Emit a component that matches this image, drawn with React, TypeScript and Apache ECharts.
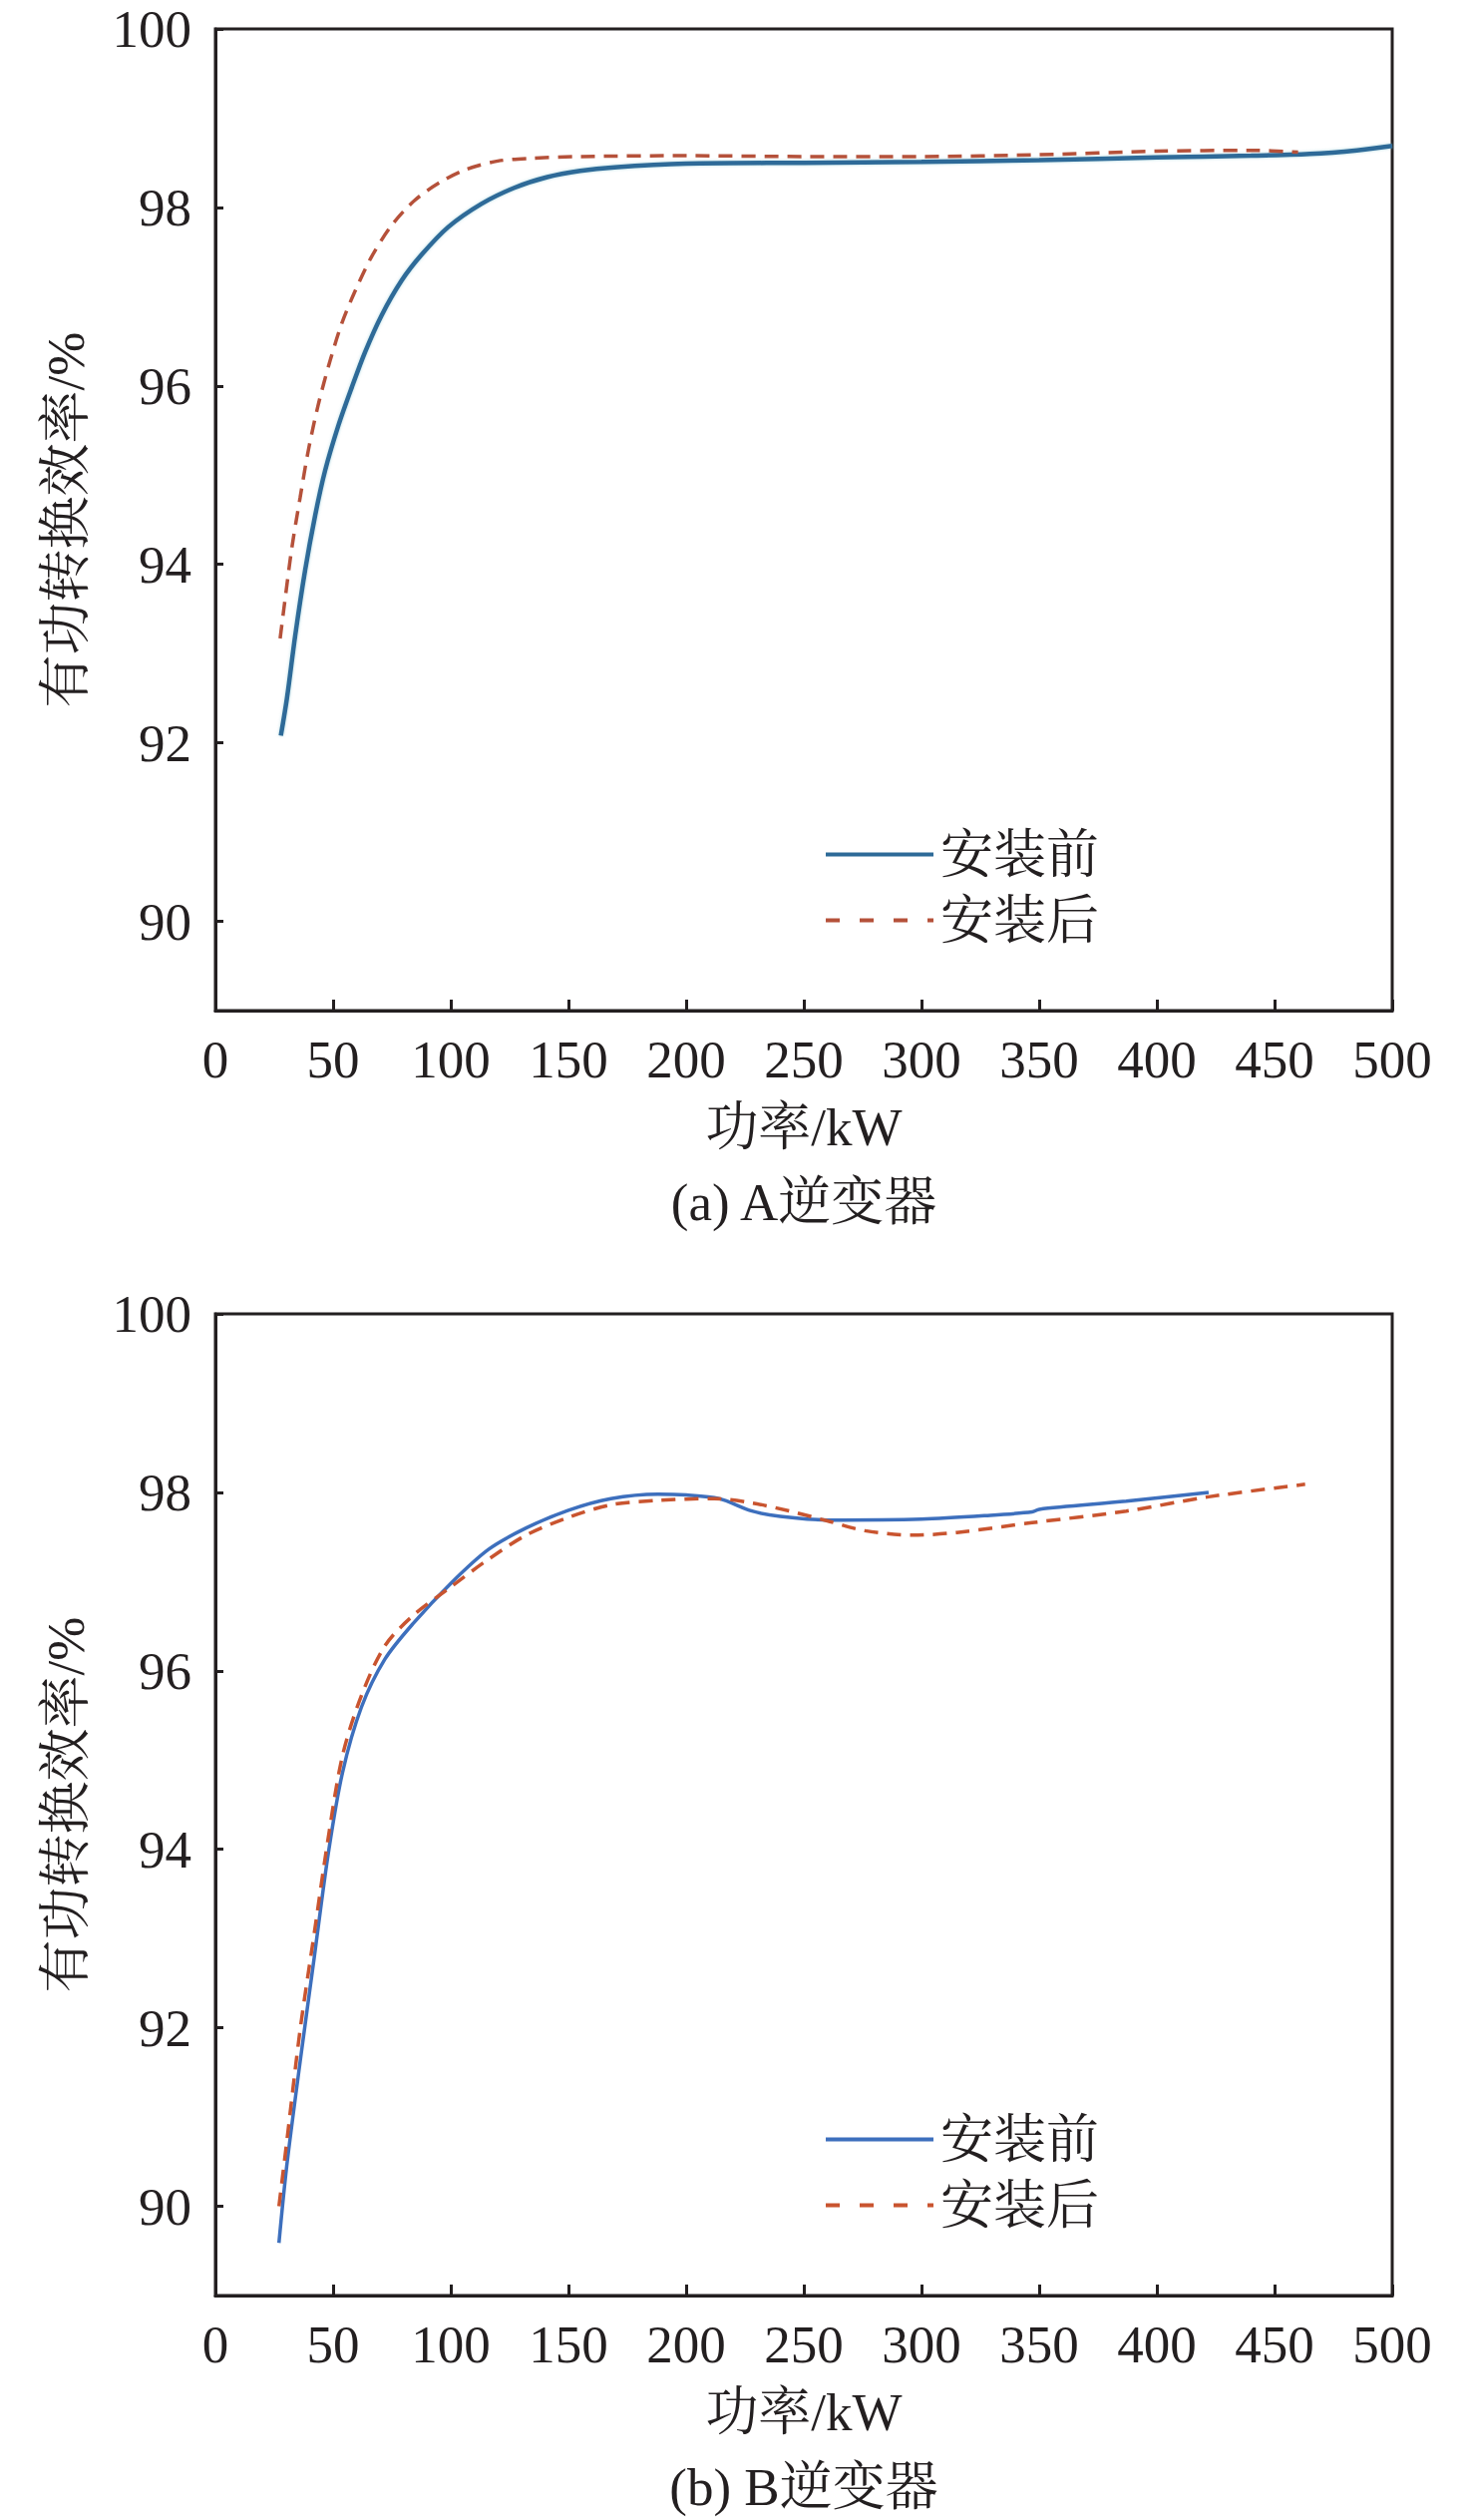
import React, { useEffect, useRef } from "react";
import * as echarts from "echarts";

// ---- Data ----
const seriesNames = ["安装前", "安装后"];
const xTicks = [0, 50, 100, 150, 200, 250, 300, 350, 400, 450, 500];
const yTicks = [90, 92, 94, 96, 98, 100];

// (a) A inverter, before installation
const aBeforeX = [27.8, 30.4, 33.9, 38.1, 42.4, 46.6, 52.3, 57.9, 63.6, 70.6, 79.1, 87.6, 98.9, 113, 127, 141, 155, 169.5, 200, 250, 300, 350, 400, 440, 465, 485, 500];
const aBeforeY = [92.08, 92.5, 93.2, 93.93, 94.55, 95.05, 95.56, 95.98, 96.38, 96.79, 97.18, 97.47, 97.78, 98.04, 98.22, 98.34, 98.41, 98.45, 98.49, 98.5, 98.51, 98.53, 98.56, 98.58, 98.6, 98.64, 98.69];
// (a) A inverter, after installation
const aAfterX = [27.5, 29.7, 32.5, 36, 39.5, 43.8, 48.7, 53.7, 59.3, 66.4, 74.9, 84.7, 96, 107, 120, 134, 155, 200, 250, 300, 350, 400, 440, 460];
const aAfterY = [93.17, 93.63, 94.19, 94.75, 95.28, 95.8, 96.28, 96.7, 97.06, 97.45, 97.8, 98.08, 98.29, 98.43, 98.52, 98.55, 98.57, 98.58, 98.57, 98.57, 98.59, 98.63, 98.64, 98.62];

// (b) B inverter, before installation
const bBeforeX = [27, 30.3, 36, 42, 48, 54, 62, 72, 84, 100, 116, 132, 150, 168, 188, 200, 214, 228, 240, 260, 300, 328, 347, 350, 387, 422];
const bBeforeY = [89.59, 90.45, 91.62, 92.79, 93.96, 94.86, 95.59, 96.13, 96.53, 96.98, 97.36, 97.6, 97.8, 97.93, 97.98, 97.97, 97.93, 97.79, 97.73, 97.69, 97.7, 97.74, 97.78, 97.81, 97.9, 98.0];
// (b) B inverter, after installation
const bAfterX = [27, 30.3, 36, 42, 48, 54, 62, 72, 84, 100, 116, 132, 150, 168, 188, 212, 228, 244, 260, 276, 296, 315, 347, 387, 422, 463];
const bAfterY = [90.0, 90.72, 91.98, 93.06, 94.14, 95.05, 95.72, 96.28, 96.62, 96.94, 97.25, 97.52, 97.72, 97.86, 97.91, 97.93, 97.88, 97.79, 97.68, 97.57, 97.52, 97.55, 97.66, 97.79, 97.95, 98.09];

const captions = ["(a) A逆变器", "(b) B逆变器"];
const xName = "功率/kW";
const yName = "有功转换效率/%";

const pairs = (xs: number[], ys: number[]) => xs.map((x, i) => [x, ys[i]]);

const FONT = "'Liberation Serif', 'Noto Serif CJK SC', 'Noto Sans CJK SC', serif";
const INK = "#231f20";
const FS = 53;

const GRID_LEFT = 216;
const GRID_WIDTH = 1180;
const GRID_H = 984;
const TOPS = [29, 1317];

const colors = [
  { blue: "#2d6a98", red: "#b5513a" },
  { blue: "#3d6fbd", red: "#c9542f" },
];

export default function App() {
  const ref = useRef<HTMLDivElement>(null);
  useEffect(() => {
    document.body.style.margin = "0";
    if (!ref.current) return;
    const chart = echarts.init(ref.current, undefined, { renderer: "svg" });

    const grids = TOPS.map((t) => ({
      left: GRID_LEFT,
      top: t,
      width: GRID_WIDTH,
      height: GRID_H,
      show: true,
      borderColor: INK,
      borderWidth: 3,
      backgroundColor: "transparent",
    }));

    const xAxes = [0, 1].map((i) => ({
      type: "value",
      gridIndex: i,
      min: 0,
      max: 500,
      interval: 50,
      name: xName,
      nameLocation: "middle",
      nameGap: 90,
      nameTextStyle: { fontFamily: FONT, fontSize: FS, color: INK },
      axisLine: { show: true, lineStyle: { color: INK, width: 3 } },
      axisTick: { show: true, inside: true, length: 11, lineStyle: { color: INK, width: 3 } },
      axisLabel: { show: true, margin: 22, fontFamily: FONT, fontSize: FS, color: INK, customValues: xTicks },
      splitLine: { show: false },
    }));

    const yAxes = [0, 1].map((i) => ({
      type: "value",
      gridIndex: i,
      min: 89,
      max: 100,
      name: yName,
      nameLocation: "middle",
      nameGap: 124,
      nameRotate: 90,
      nameTextStyle: { fontFamily: FONT, fontSize: FS, color: INK },
      axisLine: { show: true, lineStyle: { color: INK, width: 3 } },
      axisTick: { show: true, inside: true, length: 8, lineStyle: { color: INK, width: 3 }, customValues: yTicks },
      axisLabel: { show: true, margin: 24, fontFamily: FONT, fontSize: FS, color: INK, customValues: yTicks },
      splitLine: { show: false },
    }));

    const mkLine = (name: string, data: number[][], idx: number, color: string, dashed: boolean) => ({
      name,
      type: "line",
      xAxisIndex: idx,
      yAxisIndex: idx,
      data,
      symbol: "none",
      showSymbol: false,
      smooth: 0.3,
      lineStyle: dashed
        ? { color, width: 3.5, type: [14, 9] }
        : { color, width: idx === 0 ? 4.5 : 3.5, shadowColor: idx === 0 ? "rgba(120,190,205,0.6)" : "transparent", shadowBlur: idx === 0 ? 3 : 0 },
      itemStyle: { color },
      z: dashed ? 3 : 2,
    });

    const series = [
      mkLine(seriesNames[0], pairs(aBeforeX, aBeforeY), 0, colors[0].blue, false),
      mkLine(seriesNames[1], pairs(aAfterX, aAfterY), 0, colors[0].red, true),
      mkLine(seriesNames[0], pairs(bBeforeX, bBeforeY), 1, colors[1].blue, false),
      mkLine(seriesNames[1], pairs(bAfterX, bAfterY), 1, colors[1].red, true),
    ];

    const legends = [0, 1].map((i) => ({
      orient: "vertical",
      left: 821,
      top: TOPS[i] + 822 - 26,
      itemWidth: 108,
      itemHeight: 14,
      itemGap: 13,
      selectedMode: false,
      textStyle: { fontFamily: FONT, fontSize: FS, color: INK, padding: [0, 0, 0, 2] },
      data: [
        {
          name: seriesNames[0],
          lineStyle: { color: colors[i].blue, width: 4, type: "solid", shadowBlur: 0, shadowColor: "transparent" },
          itemStyle: { color: "transparent", opacity: 0, borderWidth: 0 },
        },
        {
          name: seriesNames[1],
          lineStyle: { color: colors[i].red, width: 4, type: [14, 20] },
          itemStyle: { color: "transparent", opacity: 0, borderWidth: 0 },
        },
      ],
    }));

    const graphic = [0, 1].map((i) => ({
      type: "text",
      x: GRID_LEFT + GRID_WIDTH / 2,
      y: TOPS[i] + GRID_H + 192,
      style: {
        text: captions[i],
        fontFamily: FONT,
        fontSize: FS,
        fill: INK,
        textAlign: "center",
        textVerticalAlign: "middle",
      },
    }));

    chart.setOption({
      animation: false,
      backgroundColor: "#ffffff",
      grid: grids,
      xAxis: xAxes,
      yAxis: yAxes,
      legend: legends,
      series,
      graphic,
    });
    return () => chart.dispose();
  }, []);
  return <div ref={ref} style={{ width: 1476, height: 2526 }} />;
}
